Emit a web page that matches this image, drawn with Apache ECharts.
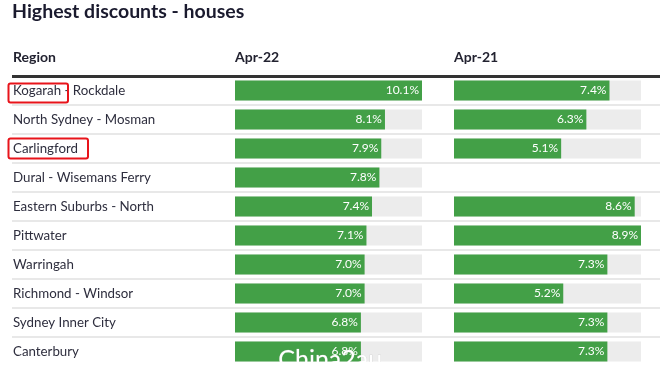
<!DOCTYPE html>
<html>
<head>
<meta charset="utf-8">
<script src="https://cdn.jsdelivr.net/npm/echarts@6/dist/echarts.min.js"></script>
<style>
html,body{margin:0;padding:0;background:#fff;}
#chart{width:660px;height:373px;}
</style>
</head>
<body>
<div id="chart"></div>
<script>
const regions = ["Kogarah - Rockdale","North Sydney - Mosman","Carlingford","Dural - Wisemans Ferry","Eastern Suburbs - North","Pittwater","Warringah","Richmond - Windsor","Sydney Inner City","Canterbury"];
const apr22 = [10.1, 8.1, 7.9, 7.8, 7.4, 7.1, 7.0, 7.0, 6.8, 6.8];
const apr21 = [7.4, 6.3, 5.1, null, 8.6, 8.9, 7.3, 5.2, 7.3, 7.3];
const columnTitles = ["Region", "Apr-22", "Apr-21"];
const chartTitle = "Highest discounts - houses";

const FONT = 'Lato, "Noto Sans", sans-serif';
const GREEN = '#43a047';
const TRACK = '#ececec';
const max22 = Math.max(...apr22.filter(v => v != null));
const max21 = Math.max(...apr21.filter(v => v != null));
const track22 = apr22.map(v => v == null ? null : max22);
const track21 = apr21.map(v => v == null ? null : max21);

const TOP = 76, H = 290;
function catAxis(gi, showLabels) {
  return {
    type: 'category', gridIndex: gi, data: regions, inverse: true,
    axisLine: {show: false}, axisTick: {show: false},
    axisLabel: showLabels ? {show: true, inside: true, margin: 1, color: '#2e2e3e', fontSize: 13.3, fontFamily: FONT} : {show: false},
    splitLine: showLabels ? {show: true, lineStyle: {color: '#e8e8e8', width: 2}} : {show: false}
  };
}
function valAxis(gi, max) {
  return {type: 'value', gridIndex: gi, min: 0, max: max, show: false, splitLine: {show: false}};
}
function barLabel() {
  return {show: true, position: 'insideRight', distance: 3, color: '#fff', fontSize: 12, fontFamily: FONT,
    formatter: p => p.value == null ? '' : p.value.toFixed(1) + '%'};
}

const chart = echarts.init(document.getElementById('chart'), null, {renderer: 'canvas'});
chart.setOption({
  animation: false,
  grid: [
    {left: 12, right: 0, top: TOP, height: H},
    {left: 235, width: 187, top: TOP, height: H},
    {left: 454, width: 187, top: TOP, height: H}
  ],
  xAxis: [valAxis(0, 1), valAxis(1, max22), valAxis(2, max21)],
  yAxis: [catAxis(0, true), catAxis(1, false), catAxis(2, false)],
  series: [
    {type: 'bar', xAxisIndex: 1, yAxisIndex: 1, data: track22, barWidth: 20, itemStyle: {color: TRACK}, silent: true},
    {type: 'bar', xAxisIndex: 1, yAxisIndex: 1, data: apr22, barWidth: 20, barGap: '-100%', itemStyle: {color: GREEN}, label: barLabel()},
    {type: 'bar', xAxisIndex: 2, yAxisIndex: 2, data: track21, barWidth: 20, itemStyle: {color: TRACK}, silent: true},
    {type: 'bar', xAxisIndex: 2, yAxisIndex: 2, data: apr21, barWidth: 20, barGap: '-100%', itemStyle: {color: GREEN}, label: barLabel()}
  ],
  graphic: [
    {type: 'text', left: 12, top: 2, z: 10, style: {text: chartTitle, fill: '#1a1a2e', fontSize: 19.5, fontWeight: 'bold', fontFamily: 'Lato'}},
    {type: 'text', left: 13, top: 50, z: 10, style: {text: columnTitles[0], fill: '#222230', fontSize: 14, fontWeight: 'bold', fontFamily: 'Lato'}},
    {type: 'text', left: 235, top: 50, z: 10, style: {text: columnTitles[1], fill: '#222230', fontSize: 14, fontWeight: 'bold', fontFamily: 'Lato'}},
    {type: 'text', left: 454, top: 50, z: 10, style: {text: columnTitles[2], fill: '#222230', fontSize: 14, fontWeight: 'bold', fontFamily: 'Lato'}},
    {type: 'rect', z: 10, shape: {x: 12, y: 75, width: 648, height: 3}, style: {fill: '#333333'}},
    {type: 'rect', z: 10, shape: {x: 8.5, y: 83.5, width: 59.5, height: 19, r: 2}, style: {fill: 'none', stroke: '#e8141b', lineWidth: 2}},
    {type: 'rect', z: 10, shape: {x: 8.5, y: 138.5, width: 79.5, height: 20, r: 2}, style: {fill: 'none', stroke: '#e8141b', lineWidth: 2}},
    {type: 'text', left: 278, top: 347, z: 20, style: {text: 'China2au', fill: '#ffffff', stroke: 'rgba(180,180,180,0.6)', lineWidth: 0.5, fontSize: 25, fontFamily: FONT}},
    {type: 'rect', z: 30, shape: {x: 0, y: 362, width: 660, height: 11}, style: {fill: '#ffffff'}}
  ]
});
</script>
</body>
</html>
